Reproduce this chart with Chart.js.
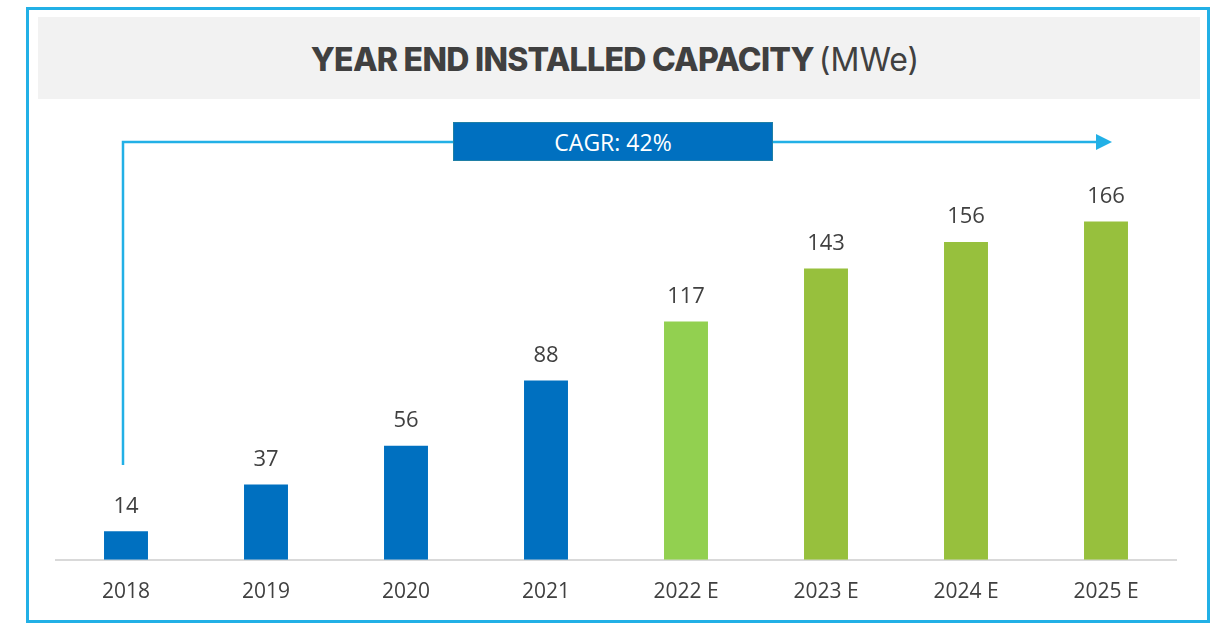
<!DOCTYPE html>
<html>
<head>
<meta charset="utf-8">
<script src="https://cdn.jsdelivr.net/npm/chart.js@4.4.1/dist/chart.umd.min.js"></script>
<style>
    html, body { margin: 0; padding: 0; background: #fff; }
    #wrap { position: relative; width: 1212px; height: 625px; overflow: hidden; }
    #frame {
        position: absolute; left: 26px; top: 7px; width: 1184px; height: 616px;
        box-sizing: border-box; border: 3px solid #22B0E6;
    }
    #titleBox {
        position: absolute; left: 38px; top: 17px; width: 1162px; height: 82px;
        box-sizing: border-box; padding-top: 3px; padding-right: 8px;
        background: #F2F2F2; color: #404040;
        display: flex; align-items: center; justify-content: center;
        font-family: "Inter", sans-serif; font-size: 32px;
    }
    #titleBox b { font-weight: 800; letter-spacing: -0.7px; }
    #titleBox span { font-weight: 400; margin-left: 5px; }
    #cagr {
        position: absolute; left: 453px; top: 122px; width: 320px; height: 39px;
        box-sizing: border-box; background: #0070C0; border: 1px solid #1F7FA6;
        color: #fff; font-family: "Open Sans", sans-serif; font-size: 23px;
        display: flex; align-items: center; justify-content: center;
    }
    canvas { position: absolute; left: 0; top: 0; }
    svg { position: absolute; left: 0; top: 0; }
</style>
</head>
<body>
<div id="wrap">
    <canvas id="capChart" width="1212" height="625"></canvas>
    <div id="frame"></div>
    <div id="titleBox"><b>YEAR END INSTALLED CAPACITY</b><span>(MWe)</span></div>
    <svg width="1212" height="625">
        <polyline points="123,465 123,142 1098,142" fill="none" stroke="#22B0E6" stroke-width="2.5"/>
        <polygon points="1096,134 1112,142 1096,150" fill="#22B0E6"/>
    </svg>
    <div id="cagr">CAGR: 42%</div>
</div>
<script>
// data
const years = ["2018", "2019", "2020", "2021", "2022 E", "2023 E", "2024 E", "2025 E"];
const capacity = [14, 37, 56, 88, 117, 143, 156, 166];
const barColors = ["#0070C0", "#0070C0", "#0070C0", "#0070C0", "#92D050", "#97C03D", "#97C03D", "#97C03D"];

const textColor = "#404040";
const fontFamily = "'Open Sans', sans-serif";

// value labels above bars
const valueLabels = {
    id: "valueLabels",
    afterDatasetsDraw(chart) {
        const ctx = chart.ctx;
        const meta = chart.getDatasetMeta(0);
        ctx.save();
        ctx.fillStyle = textColor;
        ctx.font = "22px " + fontFamily;
        ctx.textAlign = "center";
        ctx.textBaseline = "bottom";
        meta.data.forEach((bar, i) => {
            ctx.fillText(String(capacity[i]), bar.x, bar.y - 14);
        });
        ctx.restore();
    },
};

new Chart(document.getElementById("capChart").getContext("2d"), {
    type: "bar",
    data: {
        labels: years,
        datasets: [
            {
                data: capacity,
                backgroundColor: barColors,
                borderWidth: 0,
                barPercentage: 0.628,
                categoryPercentage: 0.5,
            },
        ],
    },
    options: {
        responsive: false,
        animation: false,
        layout: { padding: { left: 56, right: 36, top: 193, bottom: 0 } },
        plugins: { legend: { display: false }, tooltip: { enabled: false } },
        scales: {
            y: { display: false, min: 0, max: 180 },
            x: {
                grid: { display: false, drawTicks: false },
                border: { display: true, color: "#D9D9D9", width: 2 },
                ticks: {
                    padding: 20,
                    color: textColor,
                    font: { family: fontFamily, size: 21 },
                },
            },
        },
    },
    plugins: [valueLabels],
});
</script>
</body>
</html>
